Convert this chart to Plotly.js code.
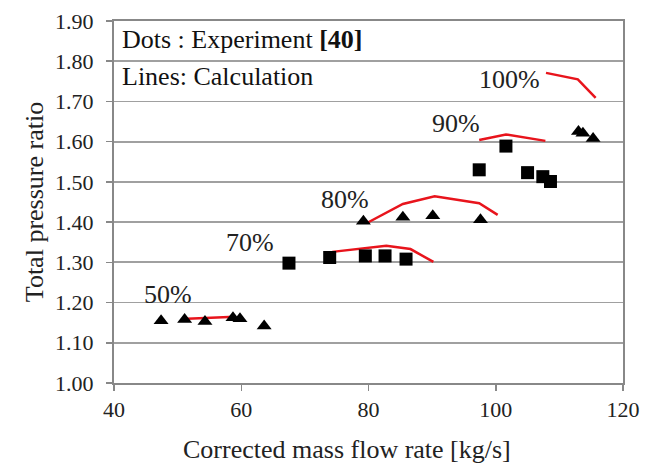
<!DOCTYPE html>
<html>
<head>
<meta charset="utf-8">
<script src="https://cdn.plot.ly/plotly-3.0.1.min.js"></script>
<style>html,body{margin:0;padding:0;background:#fff;}#chart{width:651px;height:463px;}</style>
</head>
<body>
<div id="chart"></div>
<script>
// Experiment (dots)
const exp50x = [47.4, 51.1, 54.3, 58.7, 59.8, 63.6];
const exp50y = [1.155, 1.158, 1.153, 1.162, 1.160, 1.142];
const exp70x = [67.5, 73.9, 79.5, 82.6, 85.9];
const exp70y = [1.298, 1.312, 1.316, 1.316, 1.308];
const exp80x = [79.2, 85.4, 90.1, 97.6];
const exp80y = [1.402, 1.412, 1.416, 1.406];
const exp90x = [97.4, 101.6, 105.0, 107.4, 108.6];
const exp90y = [1.530, 1.589, 1.523, 1.513, 1.501];
const exp100x = [113.0, 113.7, 115.3];
const exp100y = [1.625, 1.621, 1.608];
// Calculation (lines)
const calc50x = [51.5, 59.0];
const calc50y = [1.160, 1.165];
const calc70x = [74.3, 79.9, 82.8, 86.6, 90.2];
const calc70y = [1.326, 1.335, 1.341, 1.333, 1.301];
const calc80x = [79.9, 85.4, 90.4, 97.4, 100.3];
const calc80y = [1.399, 1.445, 1.464, 1.447, 1.418];
const calc90x = [97.4, 101.6, 107.8];
const calc90y = [1.604, 1.618, 1.602];
const calc100x = [107.9, 112.9, 115.7];
const calc100y = [1.771, 1.755, 1.709];
// Speed labels
const speedLabels = ["50%", "70%", "80%", "90%", "100%"];
const labelX = [48.5, 61.3, 76.3, 93.8, 102.1];
const labelY = [1.22, 1.349, 1.455, 1.645, 1.755];
const yTicks = [1.00, 1.10, 1.20, 1.30, 1.40, 1.50, 1.60, 1.70, 1.80, 1.90];
const xTicks = [40, 60, 80, 100, 120];
const xTitle = 'Corrected mass flow rate [kg/s]';
const yTitle = 'Total pressure ratio';

const tri = {symbol: 'triangle-up', size: 13, color: '#000'};
const sq = {symbol: 'square', size: 13, color: '#000'};
const line = {color: '#e8141c', width: 2.5};

function lineTrace(x, y) { return {x, y, mode: 'lines', line, hoverinfo: 'skip'}; }
function dotTrace(x, y, m) { return {x, y, mode: 'markers', marker: m}; }

const data = [
  lineTrace(calc50x, calc50y), lineTrace(calc70x, calc70y), lineTrace(calc80x, calc80y),
  lineTrace(calc90x, calc90y), lineTrace(calc100x, calc100y),
  dotTrace(exp50x, exp50y, tri), dotTrace(exp70x, exp70y, sq), dotTrace(exp80x, exp80y, tri),
  dotTrace(exp90x, exp90y, sq), dotTrace(exp100x, exp100y, tri)
];

const serif = '"Liberation Serif", "Times New Roman", serif';
const annotations = speedLabels.map((t, i) => ({
  x: labelX[i], y: labelY[i], xref: 'x', yref: 'y', text: t, showarrow: false,
  font: {family: serif, size: 26, color: '#222'}
}));
annotations.push({xref: 'paper', yref: 'paper', x: 0.012, y: 0.948, xanchor: 'left', yanchor: 'middle',
  text: 'Dots : Experiment <b>[40]</b>', showarrow: false, font: {family: serif, size: 26, color: '#111'}});
annotations.push({xref: 'paper', yref: 'paper', x: 0.012, y: 0.848, xanchor: 'left', yanchor: 'middle',
  text: 'Lines: Calculation', showarrow: false, font: {family: serif, size: 26, color: '#111'}});
annotations.push({xref: 'paper', yref: 'paper', x: 0.458, y: -0.183, xanchor: 'center', yanchor: 'middle',
  text: xTitle, showarrow: false, font: {family: serif, size: 26, color: '#222'}});

const layout = {
  width: 651, height: 463,
  margin: {l: 114, r: 28, t: 21, b: 80},
  paper_bgcolor: '#fff', plot_bgcolor: '#fff',
  showlegend: false,
  font: {family: serif, color: '#222'},
  xaxis: {
    range: [40, 120], tickvals: xTicks, ticktext: xTicks.map(String),
    showgrid: false, zeroline: false,
    showline: true, linecolor: '#888', linewidth: 2, mirror: true,
    ticks: 'outside', ticklen: 6, tickcolor: '#888', tickwidth: 1.5,
    tickfont: {family: serif, size: 22, color: '#222'}
  },
  yaxis: {
    range: [1.0, 1.9], tickvals: yTicks, ticktext: yTicks.map(v => v.toFixed(2)),
    showgrid: true, gridcolor: '#a0a0a0', gridwidth: 1.8, zeroline: false,
    showline: true, linecolor: '#888', linewidth: 2, mirror: true,
    ticks: 'outside', ticklen: 6, tickcolor: '#888', tickwidth: 1.5,
    ticklabelstandoff: 8,
    tickfont: {family: serif, size: 22, color: '#222'},
    title: {text: yTitle, font: {family: serif, size: 26, color: '#222'}, standoff: 4}
  },
  annotations
};

Plotly.newPlot('chart', data, layout, {displayModeBar: false, staticPlot: true});
</script>
</body>
</html>
